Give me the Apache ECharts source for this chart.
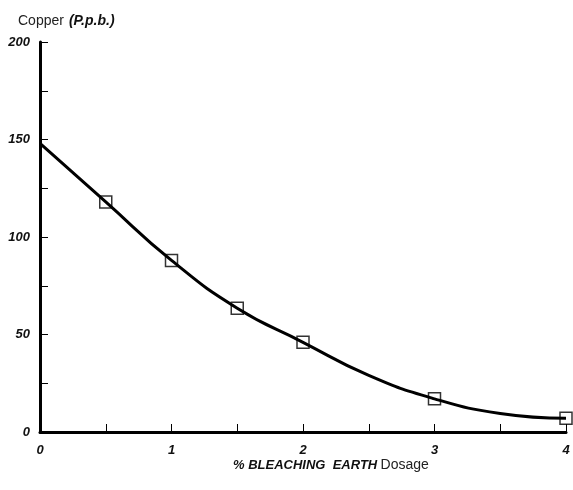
<!DOCTYPE html>
<html>
<head>
<meta charset="utf-8">
<script src="https://cdn.jsdelivr.net/npm/echarts@6/dist/echarts.min.js"></script>
<style>
html,body{margin:0;padding:0;background:#fff;}
#chart{width:573px;height:490px;}
</style>
</head>
<body>
<div id="chart"></div>
<script>
// curve values (dosage %, copper ppb)
const curveX = [0, 0.5, 1, 1.5, 2, 2.5, 3, 3.5, 4];
const curveY = [148, 118, 88, 63.5, 46, 29, 17, 9.5, 7];
// measured points (square markers)
const pointX = [0.5, 1, 1.5, 2, 3, 4];
const pointY = [118, 88, 63.5, 46, 17, 7];

const font = 'Liberation Sans, Arial, sans-serif';
const chart = echarts.init(document.getElementById('chart'));

chart.setOption({
    backgroundColor: '#fff',
    animation: false,
    title: {
        left: 13, top: 7,
        text: '{n|Copper} {b|(P.p.b.)}',
        textStyle: {
            fontWeight: 'normal',
            rich: {
                n: {fontFamily: font, fontSize: 14, fontWeight: 'normal', color: '#222'},
                b: {fontFamily: font, fontSize: 14, fontWeight: 'bold', fontStyle: 'italic', color: '#111'}
            }
        }
    },
    graphic: [{
        type: 'text',
        left: 233, top: 458,
        style: {
            text: '{b|% BLEACHING  EARTH} {n|Dosage}',
            rich: {
                b: {fontFamily: font, fontSize: 13, fontWeight: 'bold', fontStyle: 'italic', fill: '#111'},
                n: {fontFamily: font, fontSize: 14, fill: '#222'}
            }
        }
    }],
    grid: {left: 40, right: 7, top: 42, bottom: 58},
    xAxis: {
        type: 'value', min: 0, max: 4, interval: 0.5,
        axisLine: {lineStyle: {color: '#000', width: 3}},
        axisTick: {inside: true, length: 8, lineStyle: {color: '#000', width: 1}},
        splitLine: {show: false},
        axisLabel: {
            margin: 12,
            fontFamily: font, fontSize: 13, fontWeight: 'bold', fontStyle: 'italic', color: '#111',
            formatter: v => (v % 1 === 0 ? String(v) : '')
        }
    },
    yAxis: {
        type: 'value', min: 0, max: 200, interval: 50,
        axisLine: {show: true, lineStyle: {color: '#000', width: 3}},
        axisTick: {show: true, inside: true, length: 8, lineStyle: {color: '#000', width: 1}},
        minorTick: {show: true, splitNumber: 2, length: 8, lineStyle: {color: '#000', width: 1}},
        splitLine: {show: false},
        axisLabel: {
            margin: 10,
            fontFamily: font, fontSize: 13, fontWeight: 'bold', fontStyle: 'italic', color: '#111'
        }
    },
    series: [{
        type: 'line',
        smooth: 0.5,
        showSymbol: false,
        data: curveX.map((x, i) => [x, curveY[i]]),
        lineStyle: {color: '#000', width: 3}
    }, {
        type: 'scatter',
        symbol: 'rect',
        symbolSize: 12,
        data: pointX.map((x, i) => [x, pointY[i]]),
        itemStyle: {color: 'rgba(255,255,255,0)', borderColor: '#000', borderWidth: 1.5}
    }]
});
</script>
</body>
</html>
